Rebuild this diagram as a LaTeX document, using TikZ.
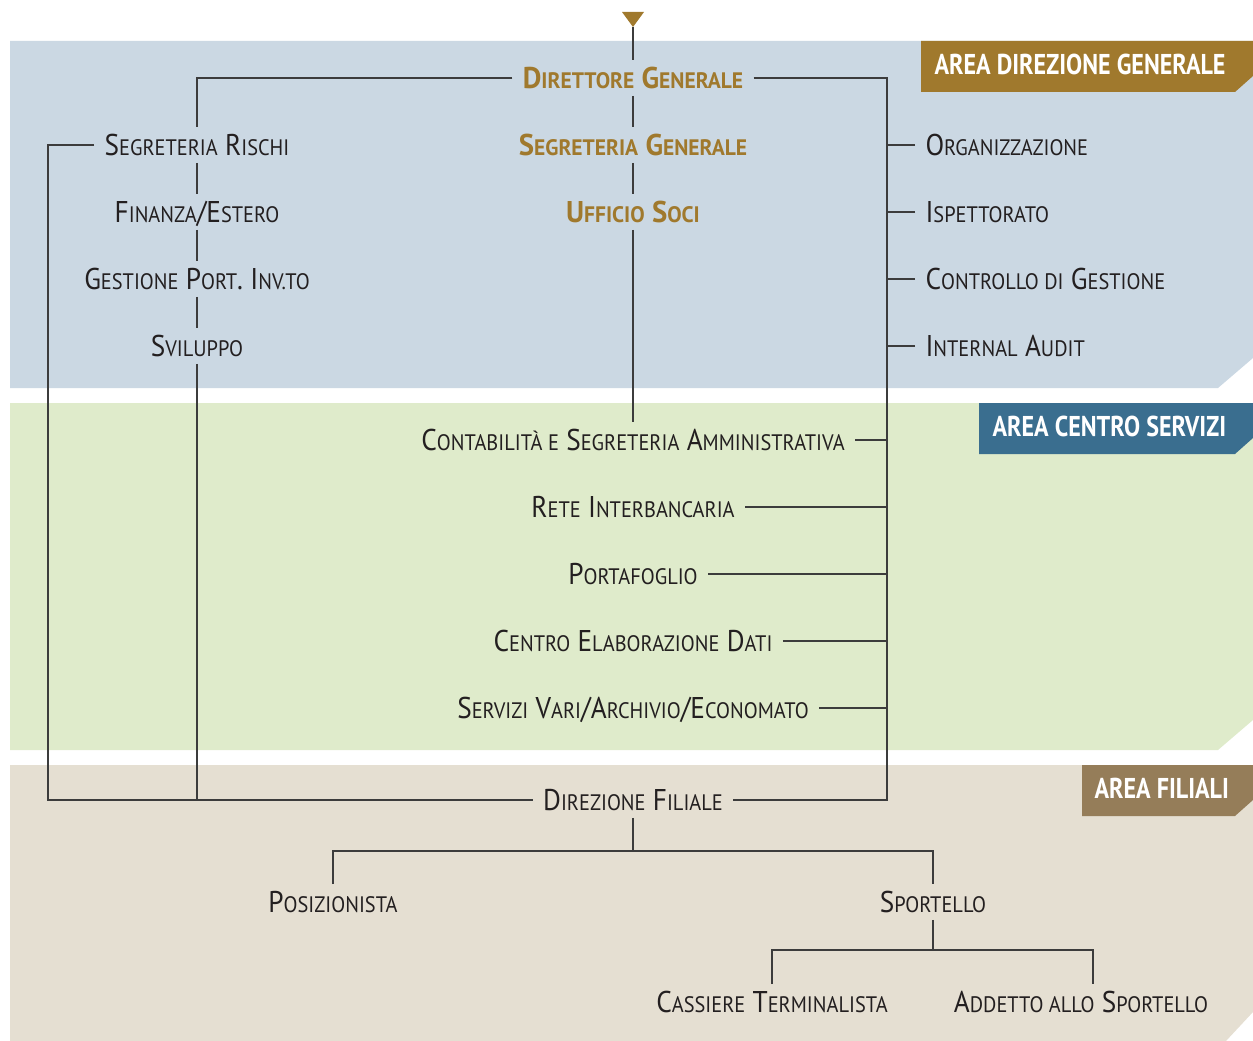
\documentclass[tikz,border=0pt]{standalone}
\usepackage{fontspec}
\setmainfont[FakeStretch=0.91,BoldFeatures={FakeStretch=0.96}]{PT Sans}
\newfontfamily\areafont[FakeStretch=0.84]{PT Sans}
\usetikzlibrary{calc}

\definecolor{bandblue}{RGB}{203,216,227}
\definecolor{bandgreen}{RGB}{223,235,203}
\definecolor{bandsand}{RGB}{229,223,210}
\definecolor{gold}{RGB}{160,121,45}
\definecolor{steel}{RGB}{58,110,143}
\definecolor{umber}{RGB}{149,125,89}
\definecolor{ink}{RGB}{35,31,32}
\definecolor{wire}{RGB}{60,60,60}

% small capitals made by hand
\newcommand\smc[1]{{\fontsize{16.8}{16.8}\selectfont #1}}

\tikzset{every picture/.style={line width=0.75pt}}
\tikzset{
  unit/.style={font=\fontsize{22.5}{22.5}\selectfont, text=ink, text height=15.75pt, text depth=0pt,
    inner xsep=7.5pt, inner ysep=0pt, minimum height=26pt},
  head/.style={unit, text=gold, font=\fontsize{22.5}{22.5}\selectfont\bfseries},
  areatag/.style={anchor=west, text=white, inner sep=0pt, font=\areafont\fontsize{21.5}{21.5}\selectfont\bfseries},
  wire/.style={draw=wire, line width=0.8pt}
}

\begin{document}
\begin{tikzpicture}[x=0.75pt,y=0.75pt,yscale=-1,xscale=1]
	\useasboundingbox (0,0) rectangle (1253,1041);

	%Shape: bands
	\fill [bandblue]  (10,41) -- (1253,41) -- (1253,358) -- (1218,388) -- (10,388) -- cycle ;
	\fill [bandgreen] (10,403) -- (1253,403) -- (1253,720) -- (1218,750) -- (10,750) -- cycle ;
	\fill [bandsand]  (10,765) -- (1253,765) -- (1253,1012) -- (1226,1041) -- (10,1041) -- cycle ;

	%Shape: area tags
	\fill [gold]  (921,41) -- (1253,41) -- (1253,76) -- (1235,92) -- (921,92) -- cycle ;
	\fill [steel] (979,403) -- (1253,403) -- (1253,438) -- (1235,454) -- (979,454) -- cycle ;
	\fill [umber] (1082,765) -- (1253,765) -- (1253,800) -- (1235,816) -- (1082,816) -- cycle ;
	\node [areatag] (tagdir) at (934,64) {AREA DIREZIONE GENERALE};
	\node [areatag] (tagcs) at (992,426) {AREA CENTRO SERVIZI};
	\node [areatag] (tagfil) at (1094,788) {AREA FILIALI};

	%Shape: entry triangle
	\fill [gold] (622,12) -- (644,12) -- (633,27) -- cycle ;
	\coordinate (entry) at (633,27);

	% Text Node: top of the chart
	\node [head] (dir) at (633,78) {D\smc{IRETTORE} G\smc{ENERALE}};
	\node [head] (segg) at (633,145) {S\smc{EGRETERIA} G\smc{ENERALE}};
	\node [head] (soci) at (633,212) {U\smc{FFICIO} S\smc{OCI}};

	% Text Node: left column
	\node [unit] (segr) at (197,145) {S\smc{EGRETERIA} R\smc{ISCHI}};
	\node [unit] (fin) at (197,212) {F\smc{INANZA}/E\smc{STERO}};
	\node [unit] (gest) at (197,279) {G\smc{ESTIONE} P\smc{ORT}. I\smc{NV.TO}};
	\node [unit] (svil) at (197,346) {S\smc{VILUPPO}};

	% Text Node: right column
	\node [unit, anchor=west] (org) at (915,145) {O\smc{RGANIZZAZIONE}};
	\node [unit, anchor=west] (isp) at (915,212) {I\smc{SPETTORATO}};
	\node [unit, anchor=west] (ctrl) at (915,279) {C\smc{ONTROLLO DI} G\smc{ESTIONE}};
	\node [unit, anchor=west] (audit) at (915,346) {I\smc{NTERNAL} A\smc{UDIT}};

	% Text Node: centro servizi
	\node [unit] (cont) at (633,440) {C\smc{ONTABILITÀ E} S\smc{EGRETERIA} A\smc{MMINISTRATIVA}};
	\node [unit] (rete) at (633,507) {R\smc{ETE} I\smc{NTERBANCARIA}};
	\node [unit] (port) at (633,574) {P\smc{ORTAFOGLIO}};
	\node [unit] (ced) at (633,641) {C\smc{ENTRO} E\smc{LABORAZIONE} D\smc{ATI}};
	\node [unit] (serv) at (633,708) {S\smc{ERVIZI} V\smc{ARI}/A\smc{RCHIVIO}/E\smc{CONOMATO}};

	% Text Node: filiali
	\node [unit] (dirf) at (633,800) {D\smc{IREZIONE} F\smc{ILIALE}};
	\node [unit] (pos) at (333,902) {P\smc{OSIZIONISTA}};
	\node [unit] (sport) at (933,902) {S\smc{PORTELLO}};
	\node [unit] (cass) at (772,1002) {C\smc{ASSIERE} T\smc{ERMINALISTA}};
	\node [unit] (add) at (1081,1002) {A\smc{DDETTO ALLO} S\smc{PORTELLO}};

	% corners of the spines
	\coordinate (rspine) at (887,800);
	\coordinate (lspine) at (48,800);
	\coordinate (fork) at (633,851);
	\coordinate (subfork) at (933,950);

	%Straight Lines: central spine
	\draw [wire] (entry) -- (dir) ;
	\draw [wire] (dir) -- (segg) ;
	\draw [wire] (segg) -- (soci) ;
	\draw [wire] (soci) -- (cont) ;

	%Straight Lines: left branch
	\draw [wire] (dir.west) -| (segr) ;
	\draw [wire] (segr) -- (fin) ;
	\draw [wire] (fin) -- (gest) ;
	\draw [wire] (gest) -- (svil) ;
	\draw [wire] (svil) |- (dirf.west) ;
	\draw [wire] (segr.west) -| (lspine) -- (svil |- lspine) ;

	%Straight Lines: right branch
	\draw [wire] (dir.east) -| (rspine) -- (dirf.east) ;
	\foreach \n in {org,isp,ctrl,audit}
		\draw [wire] (\n.west) -- (\n.west -| rspine) ;
	\foreach \n in {cont,rete,port,ced,serv}
		\draw [wire] (\n.east) -- (\n.east -| rspine) ;

	%Straight Lines: filiali
	\draw [wire] (dirf) -- (fork) ;
	\draw [wire] (pos) |- (fork) -| (sport) ;
	\draw [wire] (sport) -- (subfork) ;
	\draw [wire] (cass) |- (subfork) -| ([xshift=9pt]add.north) ;

\end{tikzpicture}
\end{document}
